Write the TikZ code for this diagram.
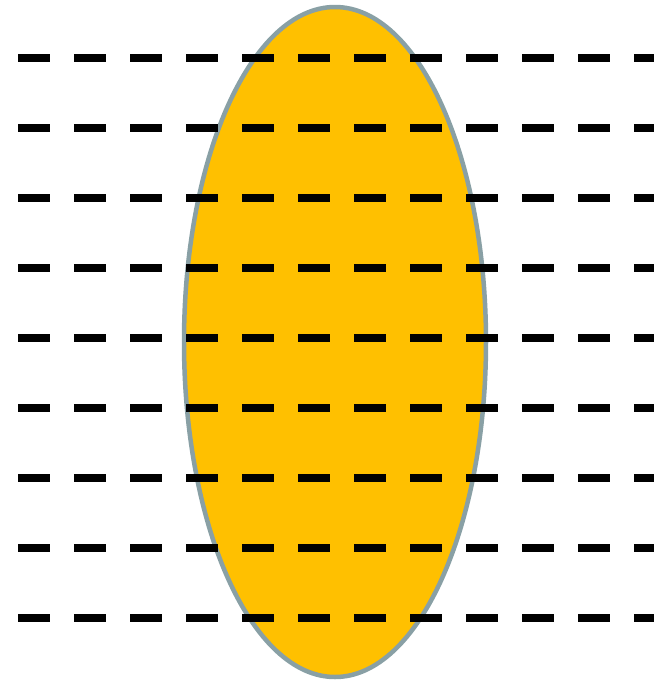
\documentclass[tikz,border=0pt]{standalone}
\usepackage{tikz}

\definecolor{lensfill}{RGB}{255,192,0}
\definecolor{lensrim}{RGB}{137,160,165}

\begin{document}
\begin{tikzpicture}[x=1pt, y=-1pt,
  lens/.style={draw=lensrim, fill=lensfill, line width=4.5pt},
  wave/.style={draw=black, line width=8pt, dash pattern=on 32pt off 24pt}]
  \useasboundingbox (0,0) rectangle (654,681);
  % lens
  \draw[lens] (335,342) ellipse [x radius=151, y radius=335];
  % wavefronts
  \foreach \y in {58,128,...,618}
    \draw[wave] (18,\y) -- (654,\y);
\end{tikzpicture}
\end{document}
